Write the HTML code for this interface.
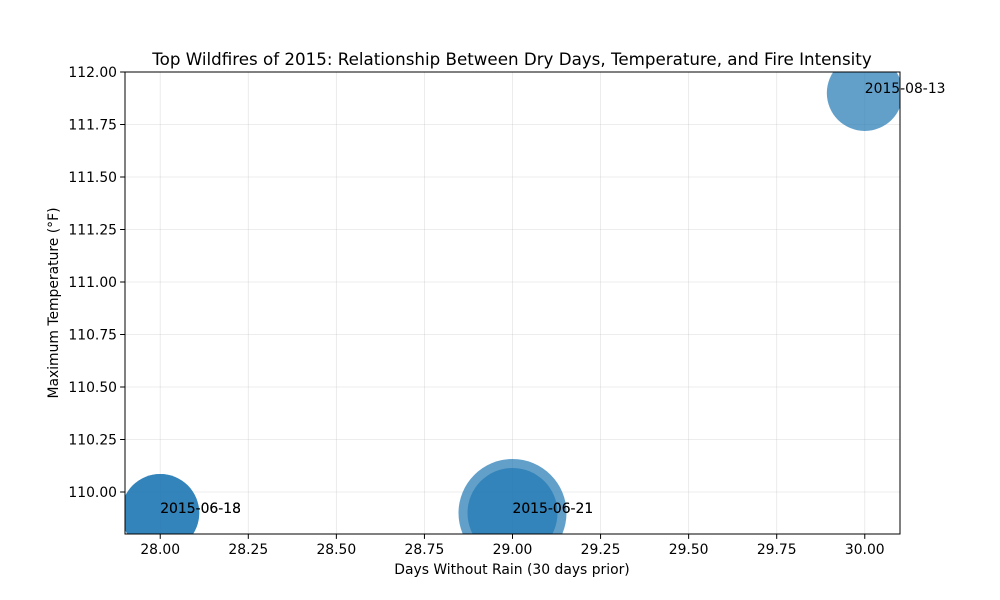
<!DOCTYPE html>
<html><head><meta charset="utf-8"><style>
body{margin:0;background:#fff;}
svg{display:block;font-family:"DejaVu Sans","Liberation Sans",sans-serif;}
</style></head><body>
<svg id="chart" width="1000" height="600"></svg>
<script>
const dates = ["2015-06-18","2015-06-18","2015-06-21","2015-06-21","2015-08-13"];
const dryDays = [28,28,29,29,30];
const maxTemps = [109.9,109.9,109.9,109.9,111.9];
const fireSizes = [15210,15210,29160,20250,14400];
const xTicks = [28.00,28.25,28.50,28.75,29.00,29.25,29.50,29.75,30.00];
const yTicks = [110.00,110.25,110.50,110.75,111.00,111.25,111.50,111.75,112.00];

const L=125,R=900,T=72,B=534, X0=27.9,X1=30.1,Y0=109.8,Y1=112;
const sx=v=>L+(v-X0)/(X1-X0)*(R-L);
const sy=v=>B-(v-Y0)/(Y1-Y0)*(B-T);
const rs=s=>Math.sqrt(s*0.1);
const NS="http://www.w3.org/2000/svg";
const svg=document.getElementById('chart');
function mk(tag,attrs,parent){const e=document.createElementNS(NS,tag);for(const k in attrs)e.setAttribute(k,attrs[k]);(parent||svg).appendChild(e);return e;}

const defs=mk('defs',{});
const cp=mk('clipPath',{id:'clip'},defs);
mk('rect',{x:L,y:T,width:R-L,height:B-T},cp);

const grid=mk('g',{});


xTicks.forEach(v=>{mk('line',{x1:sx(v),x2:sx(v),y1:T,y2:B,stroke:'#b0b0b0','stroke-opacity':0.3,'stroke-width':0.8},grid);});
yTicks.forEach(v=>{mk('line',{x1:L,x2:R,y1:sy(v),y2:sy(v),stroke:'#b0b0b0','stroke-opacity':0.3,'stroke-width':0.8},grid);});

const pts=mk('g',{'clip-path':'url(#clip)'});


dryDays.forEach((d,i)=>{
  const c=mk('circle',{cx:sx(d),cy:sy(maxTemps[i]),r:rs(fireSizes[i]),fill:'#1f77b4','fill-opacity':0.7},pts);
  
  
});
dryDays.forEach((d,i)=>{
  const t=mk('text',{x:sx(d),y:sy(maxTemps[i])+0,'font-size':13.9,fill:'#000'});
  t.textContent=dates[i];
  
  
});

const frame=mk('rect',{x:L,y:T,width:R-L,height:B-T,fill:'none',stroke:'#000','stroke-width':1});



xTicks.forEach(v=>{
  mk('line',{x1:sx(v),x2:sx(v),y1:B,y2:B+4.9,stroke:'#000'});
  const t=mk('text',{x:sx(v),y:B+20,'font-size':13.9,'text-anchor':'middle'});
  t.textContent=v.toFixed(2);
  
  
});
yTicks.forEach(v=>{
  mk('line',{x1:L-4.9,x2:L,y1:sy(v),y2:sy(v),stroke:'#000'});
  const t=mk('text',{x:L-8,y:sy(v)+5,'font-size':13.9,'text-anchor':'end'});
  t.textContent=v.toFixed(2);
  
  
});
</script>
<svg style="position:absolute;left:0;top:0" width="1000" height="600">
<text x="512" y="65" font-size="16.7" text-anchor="middle" font-family="DejaVu Sans, sans-serif">Top Wildfires of 2015: Relationship Between Dry Days, Temperature, and Fire Intensity</text>
<text x="512" y="574" font-size="13.9" text-anchor="middle" font-family="DejaVu Sans, sans-serif">Days Without Rain (30 days prior)</text>
<text transform="translate(58,303) rotate(-90)" font-size="13.9" text-anchor="middle" font-family="DejaVu Sans, sans-serif">Maximum Temperature (°F)</text>
</svg>
</body></html>
